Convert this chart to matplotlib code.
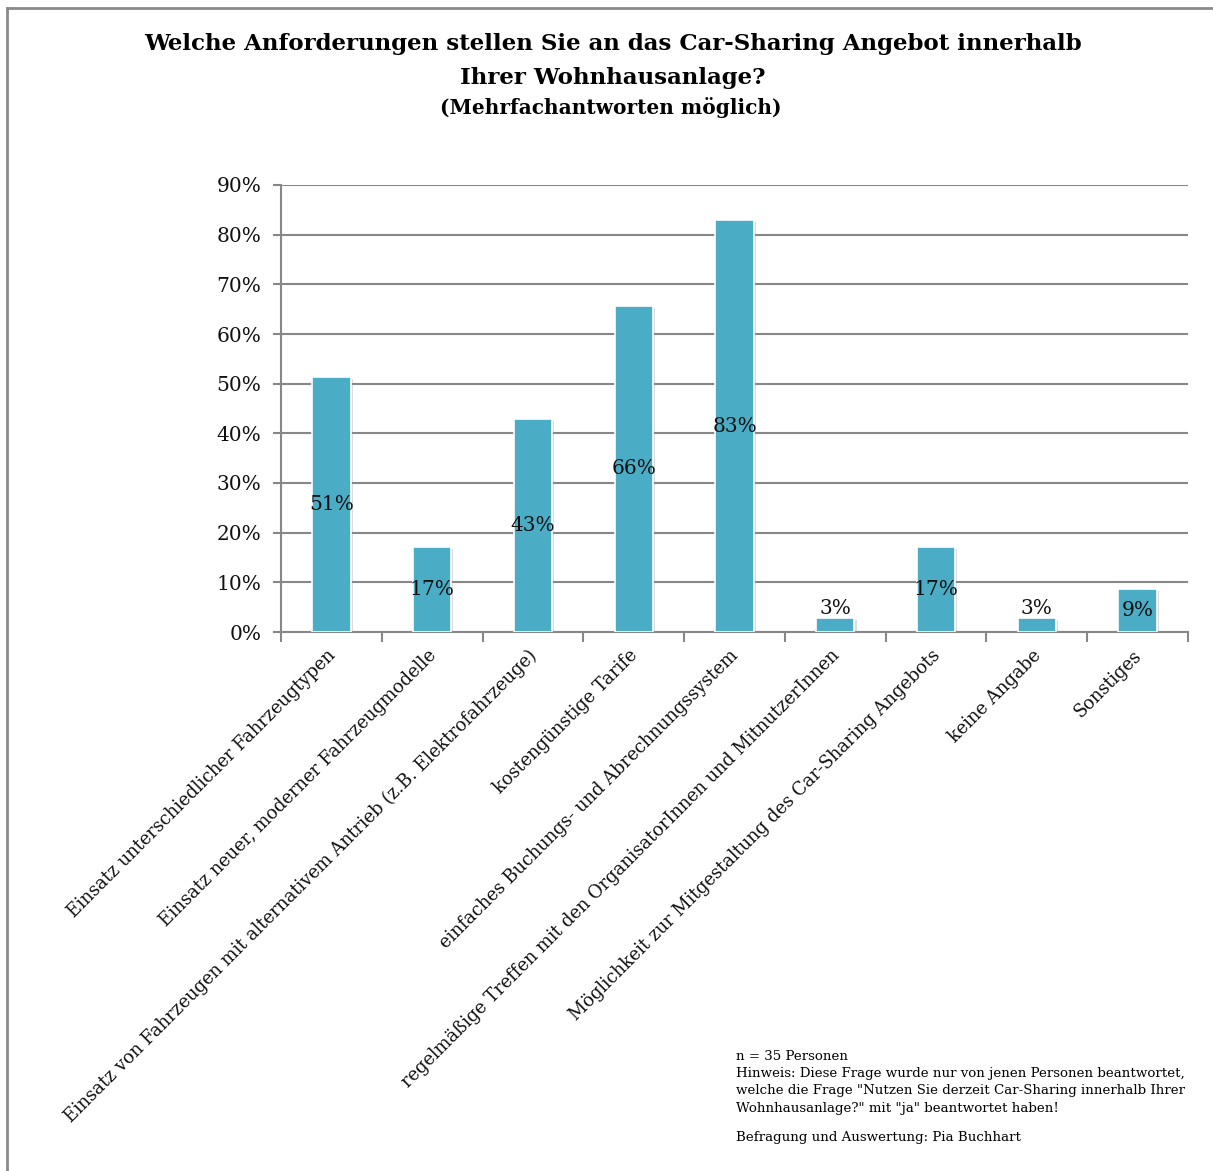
import matplotlib
matplotlib.use("Agg")
import matplotlib.pyplot as plt
import matplotlib.patheffects as pe
from matplotlib.lines import Line2D

# Survey results (share of respondents, n = 35)
categories = [
    "Einsatz unterschiedlicher Fahrzeugtypen",
    "Einsatz neuer, moderner Fahrzeugmodelle",
    "Einsatz von Fahrzeugen mit alternativem Antrieb (z.B. Elektrofahrzeuge)",
    "kostengünstige Tarife",
    "einfaches Buchungs- und Abrechnungssystem",
    "regelmäßige Treffen mit den OrganisatorInnen und MitnutzerInnen",
    "Möglichkeit zur Mitgestaltung des Car-Sharing Angebots",
    "keine Angabe",
    "Sonstiges",
]
values = [51.4, 17.1, 42.9, 65.7, 82.9, 2.9, 17.1, 2.9, 8.6]
yticks = [0, 10, 20, 30, 40, 50, 60, 70, 80, 90]
ytick_labels = [f"{t}%" for t in yticks]

title = "Welche Anforderungen stellen Sie an das Car-Sharing Angebot innerhalb\nIhrer Wohnhausanlage?"
subtitle = "(Mehrfachantworten möglich)"
footnote = ("n = 35 Personen\n"
            "Hinweis: Diese Frage wurde nur von jenen Personen beantwortet,\n"
            "welche die Frage \"Nutzen Sie derzeit Car-Sharing innerhalb Ihrer\n"
            "Wohnhausanlage?\" mit \"ja\" beantwortet haben!")
credit = "Befragung und Auswertung: Pia Buchhart"

SERIF = ["DejaVu Serif"]
BAR = "#4BACC6"
GRID = "#878787"

W, H = 1213, 1171
fig = plt.figure(figsize=(W / 100, H / 100), dpi=100)

# axes in pixel coordinates: left 281, right 1188, top 185, bottom 632
ax = fig.add_axes([281 / W, 1 - 632 / H, (1188 - 281) / W, (632 - 185) / H])

x = list(range(len(categories)))
bars = ax.bar(x, values, width=0.38, color=BAR, edgecolor="white", linewidth=1.2, zorder=3)
for b in bars:
    b.set_path_effects([pe.SimplePatchShadow(offset=(1.5, -1.5), shadow_rgbFace="#999999", alpha=0.35),
                        pe.Normal()])

ax.set_xlim(-0.5, len(categories) - 0.5)
ax.set_ylim(0, 90)
ax.set_yticks(yticks)
ax.set_yticklabels(ytick_labels, family=SERIF, fontsize=14.5, color="#111111")
ax.yaxis.grid(True, color=GRID, linewidth=1.5, zorder=0)
ax.set_axisbelow(True)

# category ticks sit at the boundaries between bars
ax.set_xticks([i - 0.5 for i in range(len(categories) + 1)])
ax.set_xticklabels([])
ax.tick_params(axis="x", length=7, width=1.5, color=GRID, direction="out")
ax.tick_params(axis="y", length=6, width=1.5, color=GRID, direction="out", pad=8)

for s in ["top", "right"]:
    ax.spines[s].set_visible(False)
for s in ["left", "bottom"]:
    ax.spines[s].set_color(GRID)
    ax.spines[s].set_linewidth(1.5)

# category labels rotated 45 degrees, right end anchored below each bar
for i, cat in enumerate(categories):
    ax.annotate(cat, xy=(i, 0), xycoords=("data", "axes fraction"),
                xytext=(1, -15), textcoords="offset points",
                rotation=45, rotation_mode="anchor", ha="right", va="center",
                family=SERIF, fontsize=12.9, color="#111111")

# value labels: centred in the bar, or just above it for very short bars
for i, v in enumerate(values):
    lbl = f"{v:.0f}%"
    if v < 5:
        ax.text(i, v, lbl, ha="center", va="bottom", family=SERIF, fontsize=14.5, color="#111111", zorder=4)
    else:
        ax.text(i, v / 2, lbl, ha="center", va="center", family=SERIF, fontsize=14.5, color="#111111", zorder=4)

fig.text(613 / W, 1 - 33 / H, title, ha="center", va="top", family=SERIF, fontsize=16.5,
         fontweight="bold", linespacing=1.7)
fig.text(611 / W, 1 - 108 / H, subtitle, ha="center", va="center", family=SERIF, fontsize=14.5,
         fontweight="bold")

fig.text(736 / W, 1 - 1050 / H, footnote, ha="left", va="top", family=SERIF, fontsize=9.6,
         linespacing=1.42)
fig.text(736 / W, 1 - 1137 / H, credit, ha="left", va="center", family=SERIF, fontsize=9.6)

# outer frame: top and left edges
fig.add_artist(Line2D([7 / W, 1], [1 - 8 / H, 1 - 8 / H], transform=fig.transFigure, color="#8a8a8a", linewidth=2))
fig.add_artist(Line2D([7 / W, 7 / W], [0, 1 - 8 / H], transform=fig.transFigure, color="#8a8a8a", linewidth=2))

fig.savefig("out.png", dpi=100, facecolor="white")
